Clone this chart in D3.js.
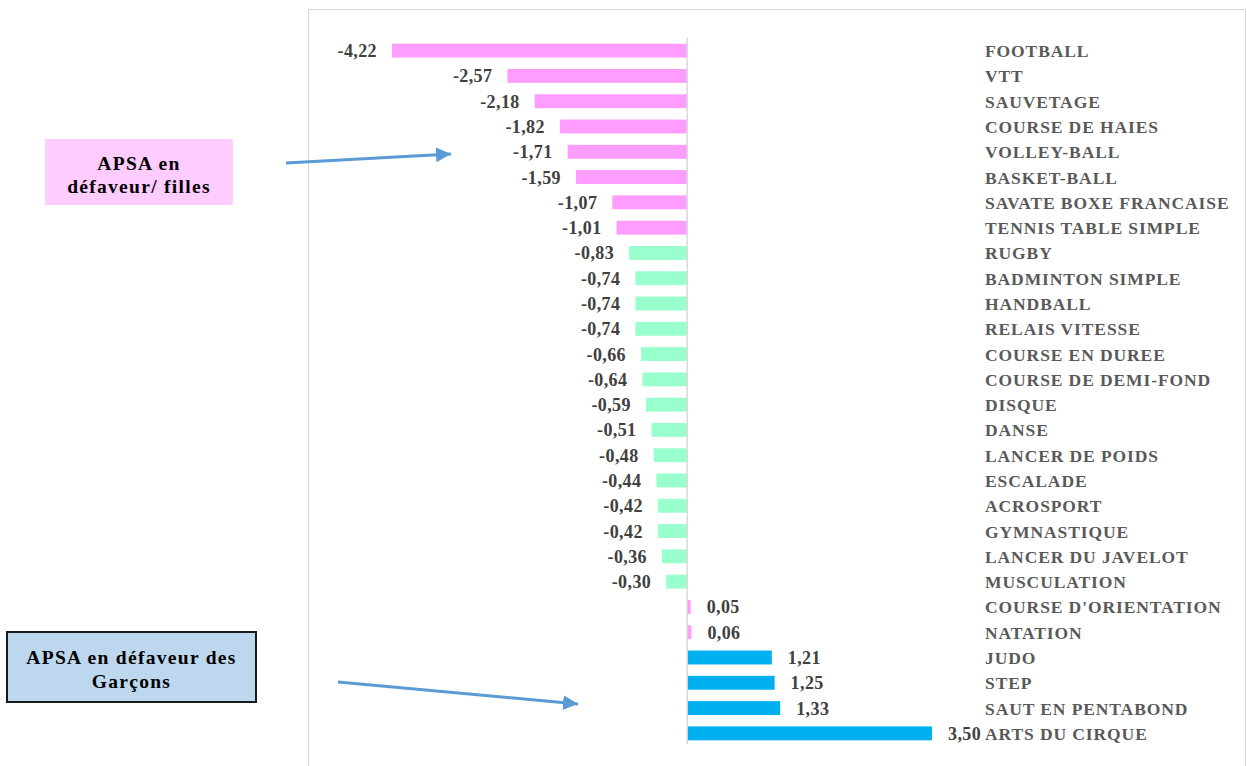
<!DOCTYPE html>
<html><head><meta charset="utf-8">
<script src="https://cdn.jsdelivr.net/npm/d3@7"></script>
<style>body{margin:0;background:#fff}svg{display:block}</style>
</head><body>
<svg id="c" width="1247" height="766"></svg>
<script>
const categories = ["FOOTBALL","VTT","SAUVETAGE","COURSE DE HAIES","VOLLEY-BALL","BASKET-BALL","SAVATE BOXE FRANCAISE","TENNIS TABLE SIMPLE","RUGBY","BADMINTON SIMPLE","HANDBALL","RELAIS VITESSE","COURSE EN DUREE","COURSE DE DEMI-FOND","DISQUE","DANSE","LANCER DE POIDS","ESCALADE","ACROSPORT","GYMNASTIQUE","LANCER DU JAVELOT","MUSCULATION","COURSE D'ORIENTATION","NATATION","JUDO","STEP","SAUT EN PENTABOND","ARTS DU CIRQUE"];
const values = [-4.22,-2.57,-2.18,-1.82,-1.71,-1.59,-1.07,-1.01,-0.83,-0.74,-0.74,-0.74,-0.66,-0.64,-0.59,-0.51,-0.48,-0.44,-0.42,-0.42,-0.36,-0.30,0.05,0.06,1.21,1.25,1.33,3.50];
const groups = ["filles","filles","filles","filles","filles","filles","filles","filles","neutre","neutre","neutre","neutre","neutre","neutre","neutre","neutre","neutre","neutre","neutre","neutre","neutre","neutre","filles","filles","garcons","garcons","garcons","garcons"];
const groupColors = {filles:"#FF9CFF", neutre:"#99FFCC", garcons:"#00B0F0"};
const annotations = [
  {lines:["APSA en","défaveur/ filles"], fill:"#FFCCFF", stroke:"none"},
  {lines:["APSA en défaveur des","Garçons"], fill:"#BDD7EE", stroke:"#1a1a1a"}
];

const svg = d3.select("#c");
const font = "'Liberation Serif','Times New Roman',serif";

// plot area border
svg.append("rect").attr("x",308.5).attr("y",9.5).attr("width",937).attr("height",800)
  .attr("fill","none").attr("stroke","#d9d9d9").attr("stroke-width",1);

const x = d3.scaleLinear().domain([-4.22, 3.5]).range([392, 932]);
const y = d3.scaleBand().domain(categories).range([38, 746]).paddingInner(0.45).paddingOuter(0.225);

const data = categories.map((c,i)=>({c, v:values[i], g:groups[i]}));

svg.append("g").selectAll("rect").data(data).join("rect")
  .attr("x", d=>Math.min(x(0), x(d.v)))
  .attr("width", d=>Math.abs(x(d.v)-x(0)))
  .attr("y", d=>y(d.c))
  .attr("height", y.bandwidth())
  .attr("fill", d=>groupColors[d.g]);

// zero axis line
svg.append("line").attr("x1",x(0)).attr("x2",x(0)).attr("y1",38).attr("y2",744)
  .attr("stroke","#d9d9d9").attr("stroke-width",1.5);

const fmt = v => d3.format(".2f")(v).replace(".", ",").replace("−","-");

svg.append("g").selectAll("text").data(data).join("text")
  .attr("x", d=> d.v<0 ? x(d.v)-15 : x(d.v)+16)
  .attr("y", d=>y(d.c)+y.bandwidth()/2+6.5)
  .attr("text-anchor", d=> d.v<0 ? "end":"start")
  .attr("font-family", font).attr("font-weight","bold").attr("font-size",18)
  .attr("letter-spacing",0.4)
  .attr("fill","#404040")
  .text(d=>fmt(d.v));

svg.append("g").selectAll("text").data(data).join("text")
  .attr("x", 985)
  .attr("y", d=>y(d.c)+y.bandwidth()/2+6.5)
  .attr("font-family", font).attr("font-weight","bold").attr("font-size",17.5)
  .attr("letter-spacing",0.9)
  .attr("fill","#595959")
  .text(d=>d.c);

// annotation boxes
const boxes = [{x:45,y:139,w:188,h:66,cx:139,l1:170,l2:193},{x:7,y:632,w:249,h:70,cx:131.5,l1:664,l2:688}];
boxes.forEach((b,i)=>{
  const a = annotations[i];
  svg.append("rect").attr("x",b.x).attr("y",b.y).attr("width",b.w).attr("height",b.h)
    .attr("fill",a.fill).attr("stroke",a.stroke).attr("stroke-width",a.stroke==="none"?0:2);
  [b.l1,b.l2].forEach((ly,j)=>{
    svg.append("text").attr("x",b.cx).attr("y",ly).attr("text-anchor","middle")
      .attr("font-family",font).attr("font-weight","bold").attr("font-size",19.5)
      .attr("letter-spacing",1.3)
      .attr("fill","#000").text(a.lines[j]);
  });
});

// arrows
const defs = svg.append("defs");
defs.append("marker").attr("id","ah").attr("viewBox","0 0 10 10").attr("refX",10).attr("refY",5)
  .attr("markerWidth",5).attr("markerHeight",5).attr("orient","auto").attr("markerUnits","strokeWidth")
  .append("path").attr("d","M0,0 L10,5 L0,10 Z").attr("fill","#5B9BD5");
[[286,163,451,154],[338,682,578,704]].forEach(p=>{
  svg.append("line").attr("x1",p[0]).attr("y1",p[1]).attr("x2",p[2]).attr("y2",p[3])
    .attr("stroke","#5B9BD5").attr("stroke-width",3).attr("marker-end","url(#ah)");
});
</script>
</body></html>
